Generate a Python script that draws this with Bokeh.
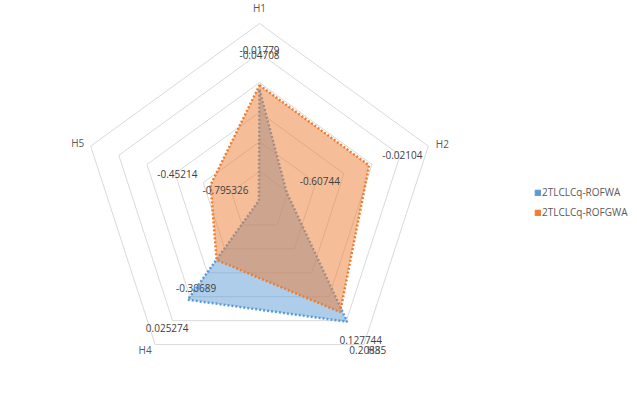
import numpy as np
from bokeh.plotting import figure
from bokeh.models import Range1d, ColumnDataSource, Legend, LegendItem
from bokeh.core.properties import value
from bokeh.embed import file_html
from bokeh.resources import INLINE

# ---- data ----
categories = ["H1", "H2", "H3", "H4", "H5"]
series_names = ["2TLCLCq-ROFWA", "2TLCLCq-ROFGWA"]
rofwa = [-0.04708, -0.60744, 0.20885, 0.025274, -0.795326]
rofgwa = [-0.01779, -0.02104, 0.127744, -0.30689, -0.45214]
axis_min, axis_max, axis_step = -0.8, 0.4, 0.2

# ---- style / layout ----
R = 177.5
FONT = "Open Sans"
colors = ["#5b9bd5", "#ed7d31"]
ring_color = "#d9d9d9"
label_gap = 35
cat_dx = [0, 14, 10, -10, -13]
cat_dy = [-16, -2, 5, 5, -3]

n = len(categories)
theta = 2 * np.pi * np.arange(n) / n
sx, cy_ = np.sin(theta), np.cos(theta)


def to_xy(vals):
    r = (np.asarray(vals, dtype=float) - axis_min) / (axis_max - axis_min) * R
    return r * sx, r * cy_


W, H = 629, 396
p = figure(width=W, height=H, output_backend="svg", toolbar_location=None,
           x_range=Range1d(-259, W - 259), y_range=Range1d(200.5 - H, 200.5),
           min_border=0)
p.axis.visible = False
p.grid.visible = False
p.outline_line_color = None
p.background_fill_color = "white"

# rings
levels = np.arange(axis_min + axis_step, axis_max + 1e-9, axis_step)
xs, ys = [], []
for lv in levels:
    x, y = to_xy([lv] * n)
    xs.append(list(x) + [x[0]])
    ys.append(list(y) + [y[0]])
p.multi_line(xs, ys, line_color=ring_color, line_width=1)

# series polygons
for vals, c in zip([rofwa, rofgwa], colors):
    x, y = to_xy(vals)
    p.patch(list(x), list(y), fill_color=c, fill_alpha=0.5, line_color=c,
            line_width=2.5, line_dash="2 2")

# data labels
for vals in [rofwa, rofgwa]:
    x, y = to_xy(vals)
    src = ColumnDataSource(dict(x=x, y=y, t=[repr(v) for v in vals],
                                xo=label_gap * sx, yo=-label_gap * cy_))
    p.text("x", "y", text="t", x_offset="xo", y_offset="yo", source=src,
           text_font=value(FONT), text_font_size="10px", text_color="#404040",
           text_align="center", text_baseline="middle")

# category labels
x, y = to_xy([axis_max] * n)
csrc = ColumnDataSource(dict(x=x, y=y, t=categories, xo=cat_dx, yo=cat_dy))
p.text("x", "y", text="t", x_offset="xo", y_offset="yo", source=csrc,
       text_font=value(FONT), text_font_size="10px", text_color="#595959",
       text_align="center", text_baseline="middle")

# legend (swatch renderers kept off-canvas)
items = []
for name, c in zip(series_names, colors):
    r = p.quad(left=[1e6], right=[1e6 + 1], top=[1e6 + 1], bottom=[1e6],
               fill_color=c, line_color=c)
    items.append(LegendItem(label=name, renderers=[r]))
legend = Legend(items=items, location=(534, 174), border_line_color=None,
                background_fill_alpha=0, padding=0, margin=0, spacing=0,
                glyph_width=7, glyph_height=7, label_standoff=1,
                label_text_font=FONT, label_text_font_size="10px",
                label_text_color="#595959", label_height=20)
p.add_layout(legend)

open("out.html", "w").write(file_html(p, INLINE))
